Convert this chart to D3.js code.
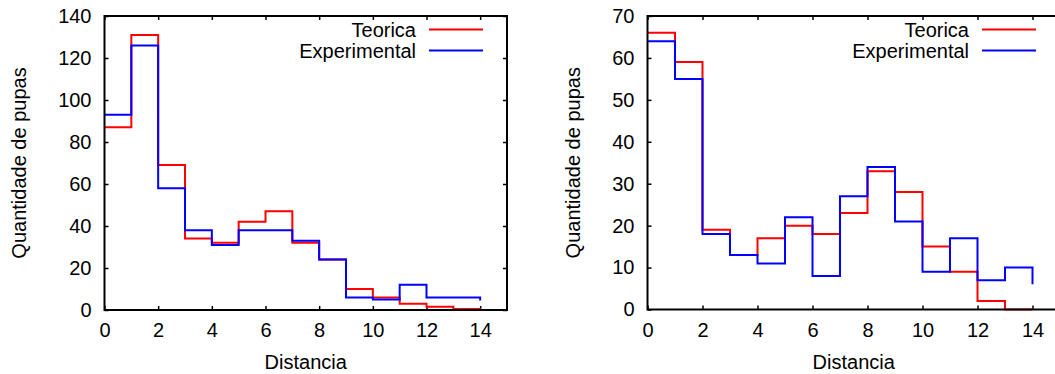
<!DOCTYPE html>
<html>
<head>
<meta charset="utf-8">
<script src="https://cdn.jsdelivr.net/npm/d3@7"></script>
<style>
  body { margin: 0; background: #fff; }
  text { font-family: Arial, "Liberation Sans", sans-serif; font-size: 20px; fill: #000; }
</style>
</head>
<body>
<svg id="chart" width="1055" height="374"></svg>
<script>
// distance bins (0..14)
const distancia = [0, 1, 2, 3, 4, 5, 6, 7, 8, 9, 10, 11, 12, 13, 14];
const xTicks = [0, 2, 4, 6, 8, 10, 12, 14];

// left panel
const teoricaA = [87, 131, 69, 34, 32, 42, 47, 32, 24, 10, 6, 3, 1.5, 0.5, 0];
const experimentalA = [93, 126, 58, 38, 31, 38, 38, 33, 24, 6, 5, 12, 6, 6, 4.5];
const yTicksA = [0, 20, 40, 60, 80, 100, 120, 140];

// right panel
const teoricaB = [66, 59, 19, 13, 17, 20, 18, 23, 33, 28, 15, 9, 2, 0, 0];
const experimentalB = [64, 55, 18, 13, 11, 22, 8, 27, 34, 21, 9, 17, 7, 10, 6];
const yTicksB = [0, 10, 20, 30, 40, 50, 60, 70];

const seriesNames = ['Teorica', 'Experimental'];
const colors = ['#ff0000', '#0000ff'];

const svg = d3.select('#chart');

const panels = [
  { left: 104.5, right: 507, top: 16, bottom: 310, ymax: 140, yTicks: yTicksA, series: [teoricaA, experimentalA], labelX: 19 },
  { left: 647.5, right: 1060, top: 16, bottom: 309.5, ymax: 70, yTicks: yTicksB, series: [teoricaB, experimentalB], labelX: 573 }
];

panels.forEach(p => {
  const x = d3.scaleLinear().domain([0, 15]).range([p.left, p.right]);
  const y = d3.scaleLinear().domain([0, p.ymax]).range([p.bottom, p.top]);
  const g = svg.append('g');

  // axes with inward ticks on all four sides
  const bottom = g.append('g').attr('transform', `translate(0,${p.bottom})`)
    .call(d3.axisBottom(x).tickValues(xTicks).tickSize(-4).tickPadding(13));
  const left = g.append('g').attr('transform', `translate(${p.left},0)`)
    .call(d3.axisLeft(y).tickValues(p.yTicks).tickSize(-4).tickPadding(13));
  g.append('g').attr('transform', `translate(0,${p.top})`)
    .call(d3.axisTop(x).tickValues(xTicks).tickSize(-4).tickFormat(''));
  g.append('g').attr('transform', `translate(${p.right},0)`)
    .call(d3.axisRight(y).tickValues(p.yTicks).tickSize(-4).tickFormat(''));

  g.selectAll('.domain').remove();
  g.selectAll('.tick line').attr('stroke', '#000').attr('stroke-width', 1.5);
  g.selectAll('.tick text').attr('font-size', 20).attr('font-family', 'Arial, "Liberation Sans", sans-serif').attr('fill', '#000');

  // step lines
  const line = d3.line()
    .x((d, i) => x(distancia[i]))
    .y(d => y(d))
    .curve(d3.curveStepAfter);

  p.series.forEach((s, k) => {
    g.append('path')
      .datum(s)
      .attr('fill', 'none')
      .attr('stroke', colors[k])
      .attr('stroke-width', 2)
      .attr('d', line);
  });

  // frame
  g.append('rect')
    .attr('x', p.left).attr('y', p.top)
    .attr('width', p.right - p.left).attr('height', p.bottom - p.top)
    .attr('fill', 'none').attr('stroke', '#000').attr('stroke-width', 2);

  // legend
  seriesNames.forEach((name, k) => {
    const ly = 30 + k * 21;
    g.append('text')
      .attr('x', p.right - 91).attr('y', ly)
      .attr('text-anchor', 'end').attr('dominant-baseline', 'central')
      .text(name);
    g.append('line')
      .attr('x1', p.right - 78).attr('x2', p.right - 24)
      .attr('y1', ly - 0.5).attr('y2', ly - 0.5)
      .attr('stroke', colors[k]).attr('stroke-width', 2);
  });

  // axis titles
  g.append('text')
    .attr('x', (p.left + p.right) / 2).attr('y', 362)
    .attr('text-anchor', 'middle').attr('dominant-baseline', 'central')
    .text('Distancia');
  g.append('text')
    .attr('transform', `translate(${p.labelX},${(p.top + p.bottom) / 2}) rotate(-90)`)
    .attr('text-anchor', 'middle').attr('dominant-baseline', 'central')
    .text('Quantidade de pupas');
});
</script>
</body>
</html>
